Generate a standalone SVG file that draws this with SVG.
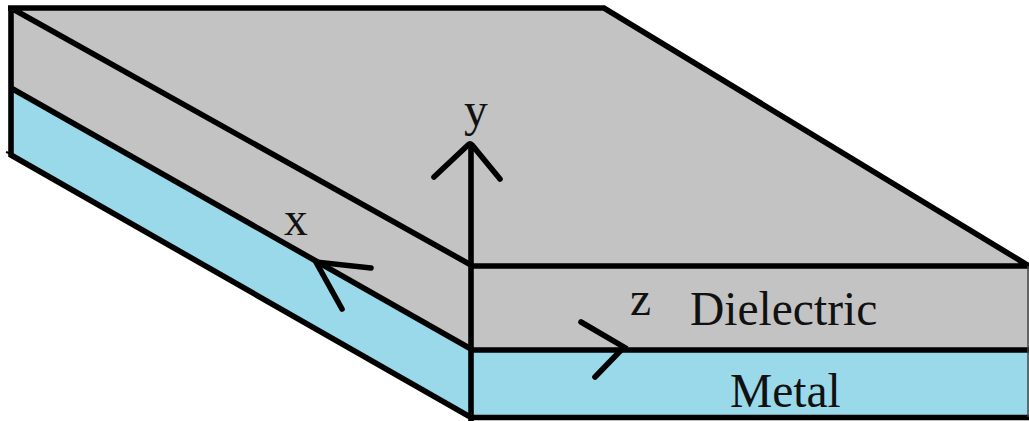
<svg xmlns="http://www.w3.org/2000/svg" width="1029" height="421" viewBox="0 0 1029 421">
<style>
.g{fill:#c3c3c3}
.b{fill:#99d9ea}
.l{fill:none;stroke:#000;stroke-width:5.6;stroke-linecap:butt;stroke-linejoin:miter}
.a{fill:none;stroke:#000;stroke-width:5.6;stroke-linecap:round;stroke-linejoin:miter}
text{font-family:"Liberation Serif","Times New Roman",serif;font-size:47.5px;fill:#111}
</style>
<rect width="1029" height="421" fill="#fff"/>
<g id="dielectric">
<polygon class="g" points="11,8 604,8 1029,266 1029,350 471,350 11,88"/>
<text x="690" y="325">Dielectric</text>
</g>
<g id="metal">
<polygon class="b" points="11,88 471,349 1029,350 1029,417 471,417 11,153"/>
<text x="730" y="407">Metal</text>
</g>
<g id="outline">
<path class="l" d="M8,8H604L1029,266M11,8V155L471,417.500H1029M11,8L471,265M11,88L471,349M471,266H1029M471,350H1029"/>
<path d="M6,152L12,154" stroke="#000" stroke-width="2" fill="none"/>
<path d="M1028,266V417" stroke="#444" stroke-width="1.5" fill="none"/>
</g>
<g id="axes">
<g id="axis-y">
<path class="l" d="M471,145V421"/>
<path class="a" d="M434,177L468,145Q470,143 472,145L500,179"/>
<text x="464" y="126">y</text>
</g>
<g id="axis-x">
<path class="a" d="M371,268L316,262L342,309"/>
<text x="284" y="235">x</text>
</g>
<g id="axis-z">
<path class="a" d="M581,322L624,347L595,377"/>
<text x="630" y="315">z</text>
</g>
</g>
</svg>
